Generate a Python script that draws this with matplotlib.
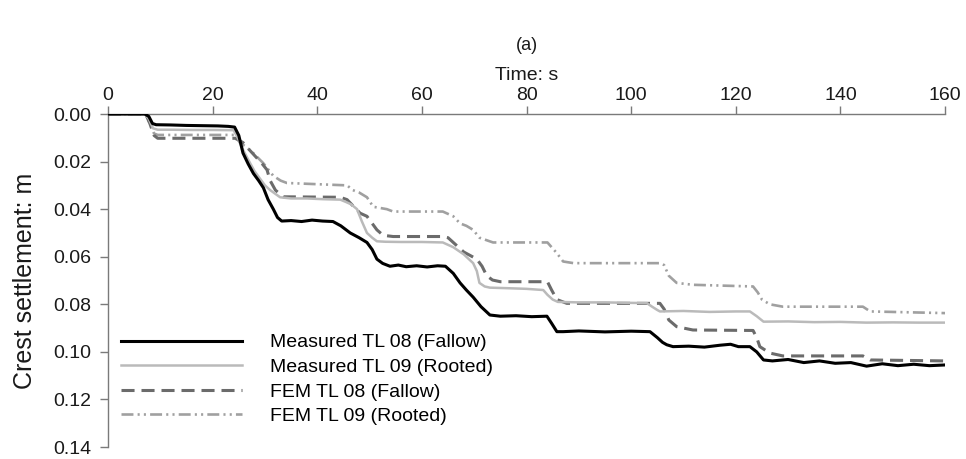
import matplotlib
matplotlib.use("Agg")
import matplotlib.pyplot as plt

plt.rcParams['font.family'] = ['Liberation Sans', 'DejaVu Sans']
plt.rcParams['lines.scale_dashes'] = False

# Measured TL 08 (Fallow)
t_meas08 = [0, 7.0, 7.8, 8.5, 9.2, 12, 15, 18, 21, 23, 24.2, 25.0, 25.8, 26.8, 27.8,
            28.8, 29.7, 30.6, 31.6, 32.4, 33.2, 35, 37, 39, 41, 43, 44.5, 46.3, 48,
            49.5, 50.5, 51.4, 52.5, 53.9, 55.5, 57, 59, 61, 63, 64.5, 66, 67.3, 68.5,
            69.8, 71.3, 73, 75, 78, 81, 83.9, 84.8, 85.8, 87, 90, 95, 100, 103.6, 105,
            106, 106.8, 108, 111, 114, 117, 119, 120.5, 122.7, 124, 125.3, 127, 130,
            133, 136, 139, 142, 145, 148, 151, 154, 157, 160]
s_meas08 = [0, 0, 0.001, 0.004, 0.0045, 0.0046, 0.0048, 0.0049, 0.005, 0.0052, 0.0055,
            0.009, 0.0164, 0.021, 0.025, 0.028, 0.031, 0.036, 0.040, 0.0435, 0.045,
            0.0448, 0.0452, 0.0446, 0.045, 0.0452, 0.047, 0.050, 0.052, 0.054, 0.057,
            0.061, 0.0628, 0.064, 0.0635, 0.0642, 0.0638, 0.0643, 0.0638, 0.064, 0.067,
            0.071, 0.074, 0.077, 0.081, 0.0845, 0.085, 0.0848, 0.0852, 0.085, 0.088,
            0.0915, 0.0915, 0.0912, 0.0916, 0.0913, 0.0915, 0.094, 0.096, 0.097, 0.0978,
            0.0976, 0.098, 0.0972, 0.0968, 0.0978, 0.0978, 0.100, 0.1034, 0.1038, 0.1032,
            0.1045, 0.1038, 0.1048, 0.1045, 0.106, 0.105, 0.1058, 0.1052, 0.1058, 0.1055]

# Measured TL 09 (Rooted)
t_meas09 = [0, 7.0, 7.8, 8.6, 9.5, 12, 16, 20, 24, 24.8, 25.8, 27, 28, 29, 30, 31, 32.9,
            35, 38, 41, 44.4, 45.5, 46.5, 47.6, 48.5, 49.5, 50.5, 51.4, 53, 56, 60, 64,
            66, 68, 69.8, 70.5, 71, 72, 73, 76, 80, 83.2, 84, 85, 86, 90, 95, 100, 103,
            104, 105, 105.5, 110, 115, 120, 122.7, 124, 125.3, 130, 135, 140, 145, 150,
            155, 160]
s_meas09 = [0, 0, 0.002, 0.006, 0.0066, 0.0066, 0.0067, 0.0067, 0.0068, 0.010, 0.015,
            0.020, 0.024, 0.027, 0.030, 0.032, 0.035, 0.0355, 0.0355, 0.0358, 0.036,
            0.037, 0.038, 0.040, 0.045, 0.050, 0.052, 0.0535, 0.0537, 0.0538, 0.0538,
            0.054, 0.056, 0.059, 0.0627, 0.066, 0.071, 0.0725, 0.073, 0.0732, 0.0735,
            0.074, 0.076, 0.078, 0.079, 0.0792, 0.0792, 0.0794, 0.0795, 0.081, 0.0824,
            0.083, 0.0828, 0.0832, 0.083, 0.083, 0.085, 0.0873, 0.0872, 0.0875, 0.0874,
            0.0877, 0.0876, 0.0877, 0.0877]

# FEM TL 08 (Fallow)
t_fem08 = [0, 7.2, 8.0, 8.8, 9.5, 24.3, 25.0, 25.8, 27, 28.5, 29.5, 30.4, 31, 32, 33.5,
           44.4, 45.7, 47, 48.2, 49.5, 50.5, 51.4, 52.6, 54.5, 64, 65, 66, 67, 68, 70.5,
           71.5, 72.4, 73.5, 75, 84, 84.8, 85.8, 87.7, 105.5, 106.3, 107.2, 108.7, 111.8,
           123.3, 124, 124.6, 126.5, 129, 144.3, 145.7, 160]
s_fem08 = [0, 0, 0.004, 0.009, 0.0102, 0.0102, 0.011, 0.012, 0.015, 0.0186, 0.021,
           0.0235, 0.028, 0.032, 0.0348, 0.035, 0.036, 0.039, 0.0417, 0.043, 0.046,
           0.0487, 0.051, 0.0515, 0.0515, 0.052, 0.054, 0.056, 0.058, 0.061, 0.064,
           0.068, 0.0698, 0.0705, 0.0705, 0.074, 0.078, 0.0796, 0.0796, 0.082, 0.0866,
           0.0894, 0.0908, 0.091, 0.094, 0.0978, 0.1005, 0.1017, 0.1017, 0.1034, 0.1038]

# FEM TL 09 (Rooted)
t_fem09 = [0, 7.2, 8.0, 8.8, 9.5, 24.3, 25.2, 26.5, 27.8, 29.7, 31.6, 33, 34.2, 45.7,
           46.8, 48, 49.5, 50.7, 52, 53.3, 54.5, 64, 66, 67.3, 68.5, 69.8, 71, 72.3,
           73.6, 84, 85.8, 87, 89, 105.5, 106.3, 107.2, 108.7, 111.8, 123.3, 124.2, 125,
           126.5, 129, 144.3, 145.7, 160]
s_fem09 = [0, 0, 0.004, 0.0082, 0.0088, 0.0088, 0.012, 0.014, 0.0165, 0.0207, 0.026,
           0.028, 0.029, 0.030, 0.032, 0.033, 0.035, 0.039, 0.0395, 0.040, 0.041, 0.041,
           0.043, 0.046, 0.047, 0.0487, 0.052, 0.053, 0.054, 0.054, 0.0585, 0.062,
           0.0627, 0.0627, 0.0635, 0.068, 0.071, 0.0718, 0.0725, 0.075, 0.078, 0.080,
           0.081, 0.081, 0.083, 0.0837]

x_ticks = [0, 20, 40, 60, 80, 100, 120, 140, 160]
y_ticks = [0.00, 0.02, 0.04, 0.06, 0.08, 0.10, 0.12, 0.14]

fig = plt.figure(figsize=(9.66, 4.59), dpi=100)
ax = fig.add_axes([0.1118, 0.0261, 0.8665, 0.7255])

spine_col = '#7a7a7a'
ax.plot(t_fem09, s_fem09, color='#a0a0a0', lw=1.9,
        linestyle=(0, (8.6, 3, 1.5, 3, 1.5, 3)), label='FEM TL 09 (Rooted)', zorder=2)
ax.plot(t_fem08, s_fem08, color='#6b6b6b', lw=2.2,
        linestyle=(0, (9.4, 5)), label='FEM TL 08 (Fallow)', zorder=3)
ax.plot(t_meas09, s_meas09, color='#bababa', lw=1.8,
        label='Measured TL 09 (Rooted)', zorder=4)
ax.plot(t_meas08, s_meas08, color='#000000', lw=2.2,
        label='Measured TL 08 (Fallow)', zorder=5)

ax.set_xlim(0, 160)
ax.set_ylim(0.14, 0.0)
ax.set_xticks(x_ticks)
ax.set_xticklabels([str(v) for v in x_ticks])
ax.set_yticks(y_ticks)
ax.set_yticklabels([f'{v:.2f}' for v in y_ticks])

ax.xaxis.tick_top()
ax.xaxis.set_label_position('top')
for side in ('right', 'bottom'):
    ax.spines[side].set_visible(False)
for side in ('left', 'top'):
    ax.spines[side].set_color(spine_col)
    ax.spines[side].set_linewidth(1.0)
ax.tick_params(axis='both', colors=spine_col, labelcolor='#1a1a1a',
               labelsize=14, length=6, width=1.0, direction='out')
ax.tick_params(axis='x', pad=1)
ax.tick_params(axis='y', pad=6)

ax.set_xlabel('Time: s', fontsize=14, color='#1a1a1a', labelpad=5)
ax.set_ylabel('Crest settlement: m', fontsize=18, color='#1a1a1a', labelpad=12)
fig.text(0.545, 0.9, '(a)', ha='center', va='center', fontsize=13, color='#1a1a1a')

handles, labels = ax.get_legend_handles_labels()
order = [3, 2, 1, 0]
ax.legend([handles[i] for i in order], [labels[i] for i in order],
          loc='upper left', bbox_to_anchor=(0.0155, 0.34), frameon=False,
          fontsize=14, handlelength=6.2, handletextpad=1.45, labelspacing=0.36,
          borderpad=0, borderaxespad=0)

fig.savefig('out.png', dpi=100)
